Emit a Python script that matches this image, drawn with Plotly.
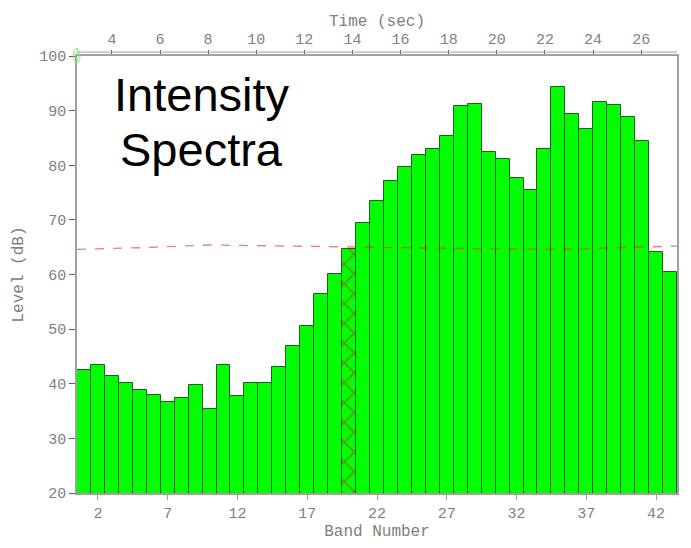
import plotly.graph_objects as go

# Band levels (dB) for the 43 analysis bands
bands = list(range(1, 44))
levels = [42.6, 43.5, 41.5, 40.2, 38.9, 38.0, 36.6, 37.4, 39.8, 35.4,
          43.4, 37.7, 40.1, 40.2, 43.1, 47.0, 50.6, 56.4, 60.1, 64.6,
          69.4, 73.4, 77.1, 79.6, 81.8, 83.0, 85.4, 90.9, 91.2, 82.5,
          81.2, 77.6, 75.4, 82.9, 94.3, 89.4, 86.7, 91.6, 91.0, 88.9,
          84.5, 64.2, 60.4]
marked_band = 20

# Reference threshold curve (band position, dB)
threshold_x = [0.5, 5, 10, 15, 20, 25, 30, 35, 40, 43.5]
threshold_db = [64.6, 64.9, 65.4, 65.2, 65.0, 64.9, 64.7, 64.6, 64.9, 65.2]

band_ticks = [2, 7, 12, 17, 22, 27, 32, 37, 42]
time_ticks = [4, 6, 8, 10, 12, 14, 16, 18, 20, 22, 24, 26]
level_ticks = [20, 30, 40, 50, 60, 70, 80, 90, 100]

AXIS_GRAY = "#a0a0a0"
TEXT_GRAY = "#808080"
MONO = "Liberation Mono"

patterns = ["x" if b == marked_band else "" for b in bands]

fig = go.Figure()
fig.add_trace(go.Bar(
    x=bands, y=levels, base=0,
    marker=dict(
        color="#00ff00",
        line=dict(color="rgba(25,85,25,0.95)", width=1),
        pattern=dict(shape=patterns, fgcolor="#a0401e", size=14, solidity=0.22),
    ),
    showlegend=False, hoverinfo="x+y",
))
fig.add_trace(go.Scatter(
    x=threshold_x, y=threshold_db, mode="lines",
    line=dict(color="rgba(225,60,50,0.65)", width=1.3, dash="dash"),
    showlegend=False, hoverinfo="skip",
))
# invisible trace so the time axis is drawn
fig.add_trace(go.Scatter(x=[time_ticks[0]], y=[20], xaxis="x2", mode="markers",
                         marker=dict(opacity=0), showlegend=False, hoverinfo="skip"))

fig.update_layout(
    width=691, height=548,
    margin=dict(l=77, r=12, t=56, b=55),
    paper_bgcolor="white", plot_bgcolor="white",
    bargap=0,
    font=dict(family=MONO, color=TEXT_GRAY, size=15),
    xaxis=dict(
        range=[0.5, 43.5], tickvals=band_ticks, ticks="outside", ticklen=5,
        tickcolor=AXIS_GRAY, showline=True, linecolor=AXIS_GRAY, linewidth=1.5,
        showgrid=False, zeroline=False,
        tickfont=dict(family=MONO, size=15, color=TEXT_GRAY),
        title=dict(text="Band Number", standoff=2,
                   font=dict(family=MONO, size=16, color=TEXT_GRAY)),
    ),
    xaxis2=dict(
        range=[2.55, 27.49], tickvals=time_ticks, overlaying="x", side="top",
        anchor="y", ticks="outside", ticklen=4, tickcolor="#606060",
        showline=True, linecolor=AXIS_GRAY, linewidth=1.5,
        showgrid=False, zeroline=False,
        tickfont=dict(family=MONO, size=15, color=TEXT_GRAY),
        title=dict(text="Time (sec)", standoff=2,
                   font=dict(family=MONO, size=16, color=TEXT_GRAY)),
    ),
    yaxis=dict(
        range=[20, 100], tickvals=level_ticks, ticks="outside", ticklen=6,
        tickcolor="#606060", showline=True, linecolor=AXIS_GRAY, linewidth=1.5,
        mirror=True, showgrid=False, zeroline=False,
        tickfont=dict(family=MONO, size=15, color=TEXT_GRAY),
        title=dict(text="Level (dB)", standoff=12,
                   font=dict(family=MONO, size=16, color=TEXT_GRAY)),
    ),
)

# double rule along the time axis
fig.add_shape(type="line", xref="paper", yref="paper", x0=0, x1=1,
              y0=1.009, y1=1.009, line=dict(color=AXIS_GRAY, width=1))
# start-of-time cursor
fig.add_shape(type="circle", xref="paper", yref="paper",
              x0=-0.006, x1=0.005, y0=0.985, y1=1.017,
              line=dict(color="#7cf07c", width=1))
fig.add_shape(type="line", xref="paper", yref="paper", x0=0, x1=0,
              y0=0.985, y1=1.017, line=dict(color="#7cf07c", width=1))

fig.add_annotation(text="Intensity", xref="paper", yref="paper", x=0.2076, y=0.913,
                   xanchor="center", yanchor="middle", showarrow=False,
                   font=dict(family="Liberation Sans", size=47, color="black"))
fig.add_annotation(text="Spectra", xref="paper", yref="paper", x=0.207, y=0.787,
                   xanchor="center", yanchor="middle", showarrow=False,
                   font=dict(family="Liberation Sans", size=47, color="black"))

fig.write_html("out.html")
